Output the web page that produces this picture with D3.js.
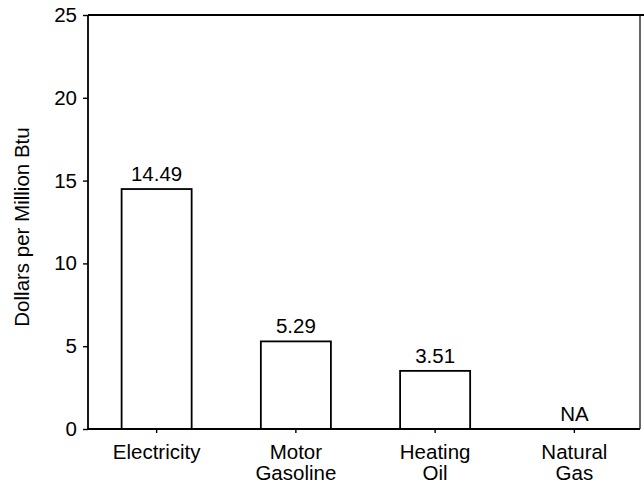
<!DOCTYPE html>
<html>
<head>
<meta charset="utf-8">
<script src="https://cdn.jsdelivr.net/npm/d3@7"></script>
<style>
  html, body { margin: 0; padding: 0; background: #fff; }
  svg { display: block; font-family: "Liberation Sans", Arial, Helvetica, sans-serif; }
</style>
</head>
<body>
<svg id="chart" width="644" height="493"></svg>
<script>
const categories = ["Electricity", "Motor\nGasoline", "Heating\nOil", "Natural\nGas"];
const values = [14.49, 5.29, 3.51, null];
const valueLabels = ["14.49", "5.29", "3.51", "NA"];
const yTicks = [0, 5, 10, 15, 20, 25];
const yTitle = "Dollars per Million Btu";

(function () {
const svg = d3.select("#chart");
const mLeft = 88, mRight = 640, mTop = 15, mBottom = 429;
const fs = 20.5;

const x = d3.scaleBand().domain(categories).range([87, 644]).paddingInner(0.497).paddingOuter(0.2485);
const y = d3.scaleLinear().domain([0, 25]).range([mBottom, mTop]);

// frame: top and right
svg.append("line").attr("x1", mLeft).attr("x2", 644).attr("y1", mTop).attr("y2", mTop)
  .attr("stroke", "#000").attr("stroke-width", 1.8);
svg.append("line").attr("x1", mRight).attr("x2", mRight).attr("y1", mTop).attr("y2", mBottom)
  .attr("stroke", "#000").attr("stroke-width", 1.2);

// bars
svg.selectAll("rect.bar").data(categories.map((c, i) => ({c, v: values[i]})).filter(d => d.v != null))
  .enter().append("rect").attr("class", "bar")
  .attr("x", d => x(d.c)).attr("width", x.bandwidth())
  .attr("y", d => y(d.v)).attr("height", d => y(0) - y(d.v))
  .attr("fill", "#fff").attr("stroke", "#000").attr("stroke-width", 1.8);

// value labels
svg.selectAll("text.val").data(categories.map((c, i) => ({c, v: values[i], t: valueLabels[i]})))
  .enter().append("text").attr("class", "val")
  .attr("x", d => x(d.c) + x.bandwidth() / 2)
  .attr("y", d => (d.v != null ? y(d.v) : y(0)) - 8)
  .attr("text-anchor", "middle").attr("font-size", fs).attr("fill", "#000")
  .text(d => d.t);

// y axis
const yAxis = d3.axisLeft(y).tickValues(yTicks).tickSize(5).tickPadding(6).tickFormat(d3.format("d"));
const gy = svg.append("g").attr("transform", `translate(${mLeft},0)`).call(yAxis);
gy.select(".domain").attr("stroke", "#000").attr("stroke-width", 1.8).attr("d", `M0,${mTop}V${mBottom}`);
gy.selectAll(".tick line").attr("stroke", "#000").attr("stroke-width", 1.4);
gy.selectAll(".tick text").attr("font-size", fs).attr("fill", "#000")
  .attr("font-family", "Liberation Sans, Arial, sans-serif");

// x axis
const xAxis = d3.axisBottom(x).tickSize(4).tickFormat("");
const gx = svg.append("g").attr("transform", `translate(0,${mBottom})`).call(xAxis);
gx.select(".domain").attr("stroke", "#000").attr("stroke-width", 1.8).attr("d", `M${mLeft},0H${mRight}`);
gx.selectAll(".tick line").attr("stroke", "#000").attr("stroke-width", 1.4);

// category labels
categories.forEach(c => {
  const t = svg.append("text").attr("x", x(c) + x.bandwidth() / 2).attr("y", 459)
    .attr("text-anchor", "middle").attr("font-size", fs).attr("fill", "#000");
  c.split("\n").forEach((line, j) => {
    t.append("tspan").attr("x", x(c) + x.bandwidth() / 2).attr("dy", j === 0 ? 0 : 21).text(line);
  });
});

// y title
svg.append("text").attr("transform", `translate(29,${(mTop + mBottom) / 2 + 5}) rotate(-90)`)
  .attr("text-anchor", "middle").attr("font-size", fs).attr("fill", "#000").text(yTitle);
})();
</script>
</body>
</html>
